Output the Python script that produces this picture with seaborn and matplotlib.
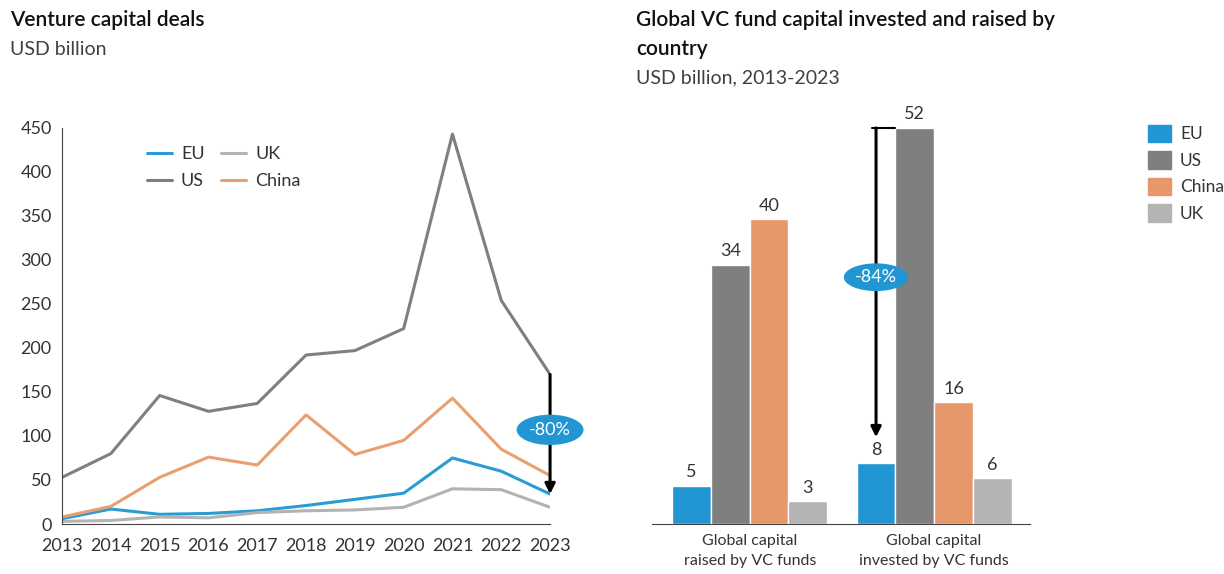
import numpy as np
import pandas as pd
import seaborn as sns
import matplotlib.pyplot as plt
from matplotlib.patches import Patch

sns.set_style("white")
plt.rcParams['font.family'] = ['Lato', 'DejaVu Sans']

# left chart: venture capital deals, USD billion
years = list(range(2013, 2024))
eu = [6, 17, 11, 12, 15, 21, 28, 35, 75, 60, 34]
uk = [3, 4, 8, 7, 13, 15, 16, 19, 40, 39, 19]
us = [53, 80, 146, 128, 137, 192, 197, 222, 443, 254, 170]
china = [8, 20, 53, 76, 67, 124, 79, 95, 143, 85, 55]

# right chart: global VC fund capital
groups = ["Global capital\nraised by VC funds", "Global capital\ninvested by VC funds"]
countries = ["EU", "US", "China", "UK"]
raised = [5, 34, 40, 3]
invested = [8, 52, 16, 6]

line_colors = {"EU": "#2a9bd3", "UK": "#b3b3b3", "US": "#7f7f7f", "China": "#e8a070"}
bar_colors = {"EU": "#2196d3", "US": "#7f7f7f", "China": "#e6986a", "UK": "#b4b4b4"}
txt = "#333333"

lines = pd.DataFrame({"year": years * 4,
                      "value": eu + us + uk + china,
                      "region": ["EU"] * 11 + ["US"] * 11 + ["UK"] * 11 + ["China"] * 11})
bars = pd.DataFrame({"group": [groups[0]] * 4 + [groups[1]] * 4,
                     "country": countries * 2,
                     "value": raised + invested})

fig = plt.figure(figsize=(12.24, 5.74), dpi=100)

# ---- left
ax1 = fig.add_axes([0.0507, 0.0871, 0.3987, 0.690])
sns.lineplot(data=lines, x="year", y="value", hue="region", palette=line_colors,
             hue_order=["EU", "US", "UK", "China"], linewidth=2.2, ax=ax1)
ax1.set_xlim(2013, 2023)
ax1.set_ylim(0, 450)
ax1.set_xticks(years)
ax1.set_yticks(range(0, 451, 50))
ax1.set_xlabel("")
ax1.set_ylabel("")
ax1.tick_params(axis="both", labelsize=13, colors=txt, length=4, width=1, direction="out")
ax1.tick_params(axis="x", pad=6)
for s in ["top", "right"]:
    ax1.spines[s].set_visible(False)
for s in ["left", "bottom"]:
    ax1.spines[s].set_color("#444444")
ax1.legend(ncol=2, loc="upper left", bbox_to_anchor=(0.14, 0.995), frameon=False,
           fontsize=13, handlelength=1.4, columnspacing=0.9, labelspacing=0.6,
           handletextpad=0.5, labelcolor=txt)

ax1.annotate("", xy=(2023, eu[-1]), xytext=(2023, us[-1]),
             arrowprops=dict(arrowstyle="-|>,head_width=0.3,head_length=0.6",
                             color="black", lw=2.2, shrinkA=0, shrinkB=0))
ax1.text(2023, 107, "-80%", ha="center", va="center", color="white", fontsize=13,
         bbox=dict(boxstyle="ellipse,pad=0.15", fc="#2196d3", ec="none"))

fig.text(0.008, 0.955, "Venture capital deals", fontsize=15, fontweight="semibold", color="#111111")
fig.text(0.008, 0.905, "USD billion", fontsize=14, color="#404040")

# ---- right
ax2 = fig.add_axes([0.5327, 0.0871, 0.3088, 0.690])
sns.barplot(data=bars, x="group", y="value", hue="country", hue_order=countries,
            palette=bar_colors, width=0.84, edgecolor="white", linewidth=1,
            saturation=1, legend=False, ax=ax2)
ax2.set_xlim(-0.53, 1.52)
ax2.set_ylim(0, 52)
ax2.set_xlabel("")
ax2.set_ylabel("")
ax2.set_yticks([])
for s in ["top", "right", "left"]:
    ax2.spines[s].set_visible(False)
ax2.spines["bottom"].set_color("#444444")
ax2.tick_params(axis="x", length=0, labelsize=11.5, colors=txt, pad=7)
for lbl in ax2.get_xticklabels():
    lbl.set_linespacing(1.6)
for c in ax2.containers:
    ax2.bar_label(c, fontsize=13, color=txt, padding=4, clip_on=False)

x_eu = 1 - 0.84 * 3 / 8
ax2.plot([x_eu - 0.02, 1 - 0.21], [52, 52], color="black", lw=1.5, clip_on=False)
ax2.annotate("", xy=(x_eu, 11.4), xytext=(x_eu, 52),
             arrowprops=dict(arrowstyle="-|>,head_width=0.3,head_length=0.6",
                             color="black", lw=2.2, shrinkA=0, shrinkB=0),
             annotation_clip=False)
ax2.text(x_eu, 32.4, "-84%", ha="center", va="center", color="white", fontsize=13,
         bbox=dict(boxstyle="ellipse,pad=0.1", fc="#2196d3", ec="none"))

handles = [Patch(color=bar_colors[c], label=c) for c in countries]
fig.legend(handles=handles, loc="upper left", bbox_to_anchor=(0.925, 0.81), frameon=False,
           fontsize=12.5, handlelength=1.35, handleheight=1.2, labelspacing=0.5,
           handletextpad=0.5, labelcolor=txt)

fig.text(0.52, 0.955, "Global VC fund capital invested and raised by", fontsize=15,
         fontweight="semibold", color="#111111")
fig.text(0.52, 0.905, "country", fontsize=15, fontweight="semibold", color="#111111")
fig.text(0.52, 0.855, "USD billion, 2013-2023", fontsize=14, color="#404040")

fig.savefig("out.png", dpi=100)
